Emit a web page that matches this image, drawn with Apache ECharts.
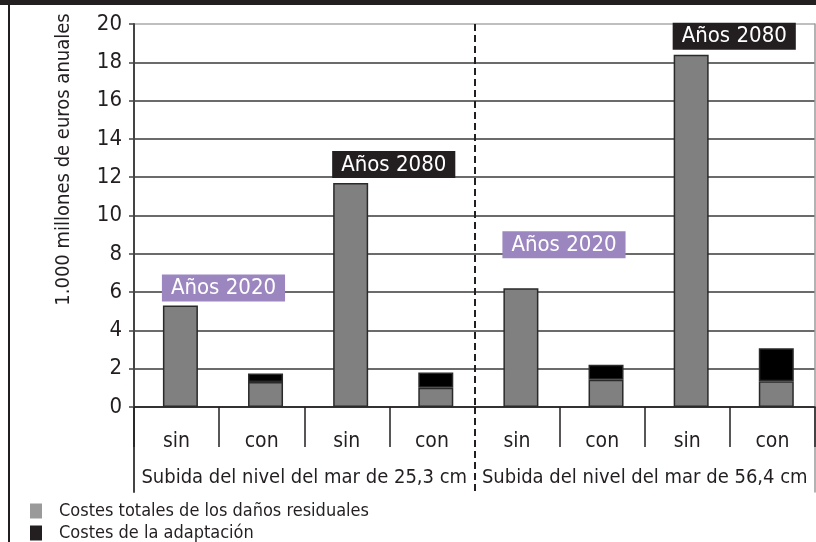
<!DOCTYPE html>
<html lang="es">
<head>
<meta charset="UTF-8">
<title>Costes de la subida del nivel del mar</title>
<script src="https://cdn.jsdelivr.net/npm/echarts@6/dist/echarts.min.js"></script>
<style>
  html, body { margin: 0; padding: 0; background: #fff; }
  #chart { width: 816px; height: 542px; }
</style>
</head>
<body>
<div id="chart"></div>
<script>
    // datos (1.000 millones de euros anuales)
    var categorias = ['sin', 'con', 'sin', 'con', 'sin', 'con', 'sin', 'con'];
    var grupos = ['Subida del nivel del mar de 25,3 cm', 'Subida del nivel del mar de 56,4 cm'];
    var danosResiduales = [5.3, 1.3, 11.7, 1.0, 6.2, 1.42, 18.4, 1.35];
    var adaptacion = ['-', 0.45, '-', 0.8, '-', 0.78, '-', 1.72];
    var etiquetas = ['Años 2020', null, 'Años 2080', null, 'Años 2020', null, 'Años 2080', null];
    var nombreSerie1 = 'Costes totales de los daños residuales';
    var nombreSerie2 = 'Costes de la adaptación';

    var FUENTE = "'Liberation Sans Narrow', 'DejaVu Sans Condensed', 'Roboto', sans-serif";
    var colorEtiqueta = {'Años 2020': '#9b86bf', 'Años 2080': '#231f20'};
    var subidaEtiqueta = [4, 0, 5, 0, 30, 0, 5, 0];

    var myChart = echarts.init(document.getElementById('chart'));

    var datosGris = danosResiduales.map(function (v, i) {
        if (!etiquetas[i]) return v;
        return {
            value: v,
            label: {
                show: true,
                formatter: etiquetas[i],
                position: [-1, -subidaEtiqueta[i]],
                align: 'left',
                verticalAlign: 'bottom',
                color: '#fff',
                fontFamily: FUENTE,
                fontSize: 22,
                backgroundColor: colorEtiqueta[etiquetas[i]],
                padding: [3, 9, 2, 9]
            }
        };
    });

    var lineaGris = ['#3a3a3a', '#3a3a3a', '#3a3a3a', '#3a3a3a', '#3a3a3a', '#3a3a3a',
        '#3a3a3a', '#3a3a3a', '#3a3a3a', '#3a3a3a', '#aaaaaa'];

    var option = {
        animation: false,
        backgroundColor: '#fff',
        textStyle: {fontFamily: FUENTE},
        graphic: [
            {type: 'rect', shape: {x: 0, y: 0, width: 816, height: 5}, style: {fill: '#231f20'}},
            {type: 'line', shape: {x1: 9, y1: 5, x2: 9, y2: 542}, style: {stroke: '#231f20', lineWidth: 2}}
        ],
        grid: [
            {left: 134, right: 1, top: 24, height: 383, outerBoundsMode: 'none'},
            {left: 134, right: 1, top: 407, height: 85, outerBoundsMode: 'none'}
        ],
        legend: {
            orient: 'vertical',
            left: 30,
            top: 502,
            padding: 0,
            itemWidth: 12,
            itemHeight: 15,
            itemGap: 4,
            icon: 'rect',
            itemStyle: {borderWidth: 0},
            textStyle: {fontFamily: FUENTE, fontSize: 18, lineHeight: 17, color: '#231f20', padding: [0, 0, 0, 12]},
            data: [
                {name: nombreSerie1, itemStyle: {color: '#9a9a9a'}},
                {name: nombreSerie2, itemStyle: {color: '#231f20'}}
            ]
        },
        xAxis: [
            {
                type: 'category',
                gridIndex: 0,
                data: categorias,
                axisLine: {lineStyle: {color: '#231f20', width: 1.5}},
                axisTick: {
                    show: true,
                    length: 40,
                    interval: function (index) { return index !== 4; },
                    lineStyle: {color: '#231f20', width: 1.5}
                },
                axisLabel: {color: '#231f20', fontSize: 21, margin: 24, interval: 0, fontFamily: FUENTE}
            },
            {
                type: 'category',
                gridIndex: 0,
                data: grupos,
                axisLine: {show: false},
                axisTick: {show: false},
                axisLabel: {show: false, interval: 0},
                splitLine: {
                    show: true,
                    interval: 0,
                    showMinLine: false,
                    showMaxLine: false,
                    lineStyle: {color: '#231f20', width: 2, type: [7, 4]}
                }
            },
            {
                type: 'category',
                gridIndex: 1,
                data: grupos,
                axisLine: {show: false},
                axisTick: {show: false},
                axisLabel: {inside: true, interval: 0, color: '#231f20', fontSize: 20, margin: 4, fontFamily: FUENTE},
                splitLine: {
                    show: true,
                    interval: 0,
                    showMinLine: false,
                    showMaxLine: false,
                    lineStyle: {color: '#231f20', width: 2, type: [7, 4]}
                }
            }
        ],
        yAxis: [
            {
                type: 'value',
                gridIndex: 0,
                min: 0,
                max: 20,
                interval: 2,
                name: '1.000 millones de euros anuales',
                nameLocation: 'middle',
                nameGap: 60,
                nameTextStyle: {color: '#231f20', fontSize: 20, fontFamily: FUENTE, padding: [0, 0, 0, 112]},
                axisLine: {show: true, lineStyle: {color: '#444', width: 2}},
                axisTick: {show: true, length: 5, lineStyle: {color: '#444', width: 1.5}},
                axisLabel: {color: '#231f20', fontSize: 22, margin: 12, fontFamily: FUENTE},
                splitLine: {show: true, lineStyle: {color: lineaGris, width: 1.5}}
            },
            {
                type: 'value',
                gridIndex: 0,
                position: 'right',
                min: 0,
                max: 20,
                axisLine: {show: true, lineStyle: {color: '#9a9a9a', width: 1.5}},
                axisTick: {show: false},
                axisLabel: {show: false},
                splitLine: {show: false}
            },
            {
                type: 'value',
                gridIndex: 1,
                axisLine: {show: true, lineStyle: {color: '#444', width: 2}},
                axisTick: {show: false},
                axisLabel: {show: false},
                splitLine: {show: false}
            },
            {
                type: 'value',
                gridIndex: 1,
                position: 'right',
                axisLine: {show: true, lineStyle: {color: '#9a9a9a', width: 1.5}},
                axisTick: {show: false},
                axisLabel: {show: false},
                splitLine: {show: false}
            }
        ],
        series: [
            {
                // hueco invisible: desplaza las barras un poco a la derecha como en el original
                name: 'hueco',
                type: 'bar',
                stack: 'hueco',
                xAxisIndex: 0,
                yAxisIndex: 0,
                barWidth: 35,
                barGap: '-78%',
                itemStyle: {color: 'rgba(0,0,0,0)'},
                data: categorias.map(function () { return '-'; })
            },
            {
                name: nombreSerie1,
                type: 'bar',
                stack: 'costes',
                xAxisIndex: 0,
                yAxisIndex: 0,
                barWidth: 35,
                barGap: '-78%',
                itemStyle: {color: '#808080', borderColor: '#2a2a2a', borderWidth: 1.5},
                data: datosGris
            },
            {
                name: nombreSerie2,
                type: 'bar',
                stack: 'costes',
                xAxisIndex: 0,
                yAxisIndex: 0,
                barWidth: 35,
                barGap: '-78%',
                itemStyle: {color: '#000', borderColor: '#2a2a2a', borderWidth: 1.5},
                data: adaptacion
            }
        ]
    };
    myChart.setOption(option);
</script>
</body>
</html>
